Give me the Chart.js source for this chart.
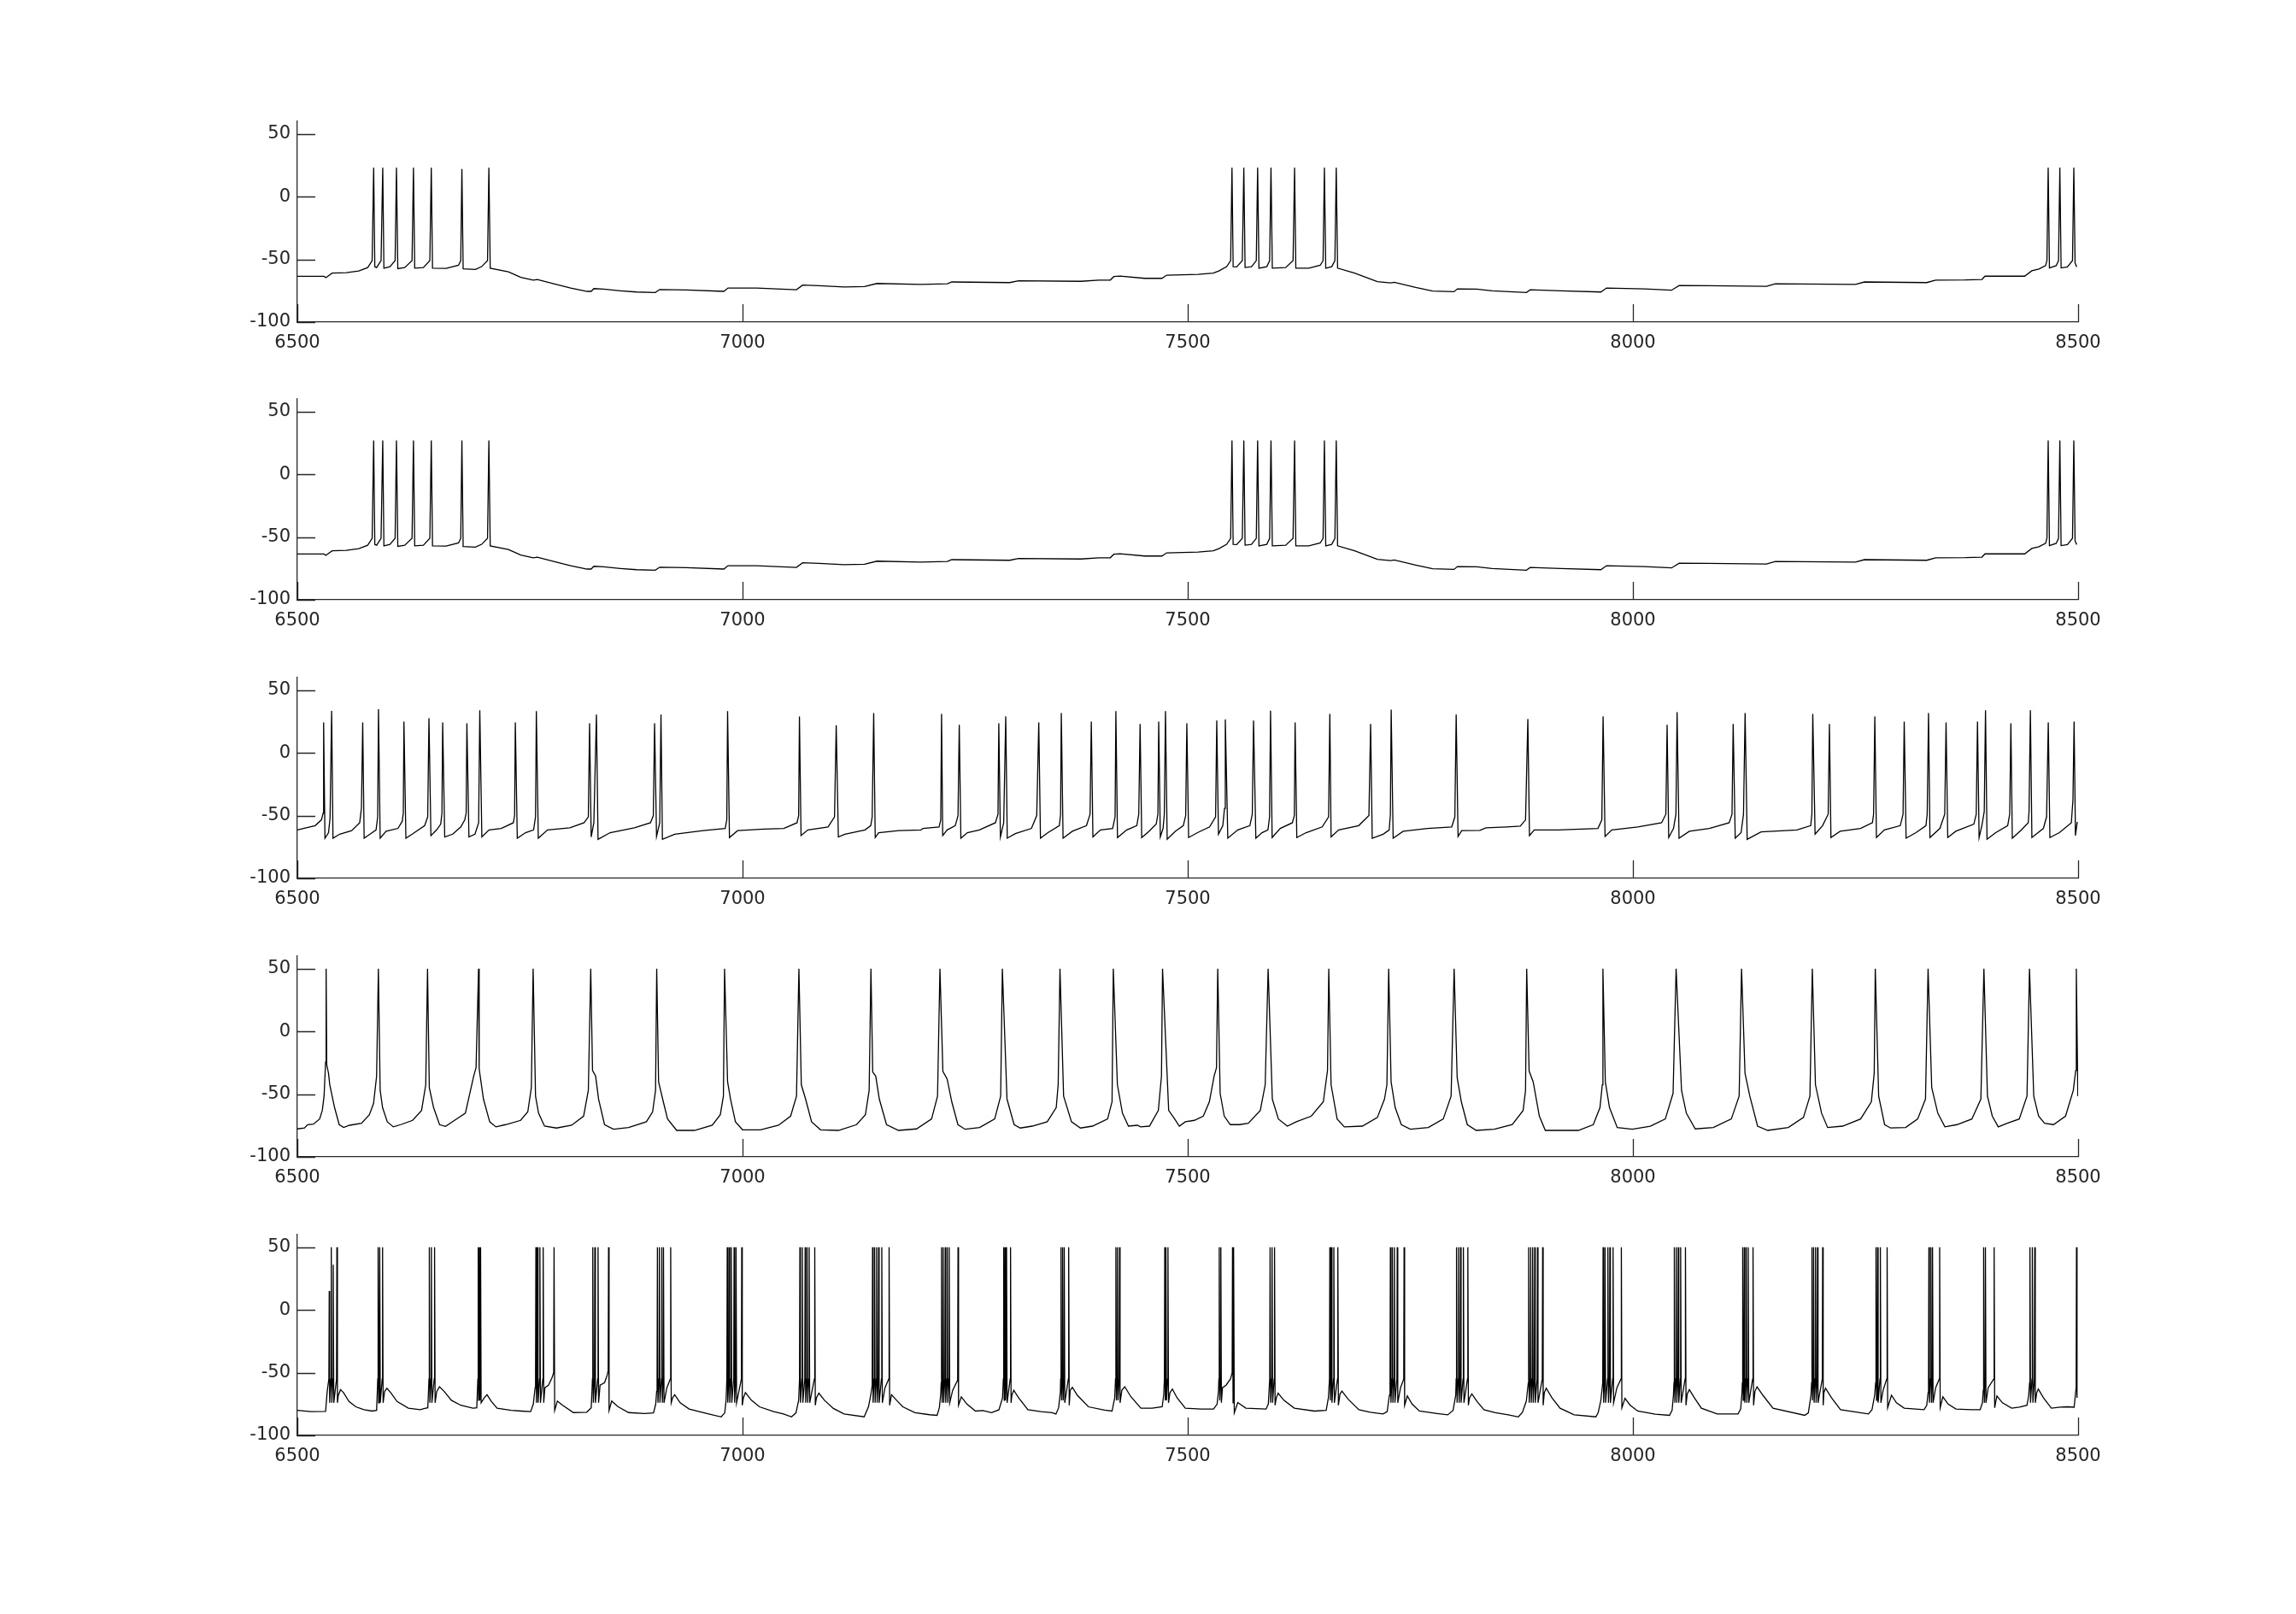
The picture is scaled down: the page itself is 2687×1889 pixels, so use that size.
<!DOCTYPE html>
<html>
<head>
<meta charset="utf-8">
<script src="https://cdn.jsdelivr.net/npm/chart.js@4/dist/chart.umd.min.js"></script>
<style>
html,body{margin:0;padding:0;background:#ffffff;}
body{width:2687px;height:1889px;position:relative;overflow:hidden;}
canvas{position:absolute;left:0;}
</style>
</head>
<body>
<canvas id="c1" width="2687" height="300" style="top:132px"></canvas>
<canvas id="c2" width="2687" height="300" style="top:457px"></canvas>
<canvas id="c3" width="2687" height="300" style="top:783px"></canvas>
<canvas id="c4" width="2687" height="300" style="top:1109px"></canvas>
<canvas id="c5" width="2687" height="300" style="top:1435px"></canvas>
<script>
// ---------- DATA (time in ms, membrane potential in mV) ----------
const xTicks = [6500, 7000, 7500, 8000, 8500];
const yTicks = [-100, -50, 0, 50];
const xRange = [6500, 8500];
const yRange = [-100, 60];

const trace1 = [
[6500,-63.5],[6530,-63.5],[6532,-64.6],[6539,-61],[6555,-60.6],[6569,-59.2],[6579,-56.5],[6584,-51],[6585.7,23],[6587,-56],[6589,-56.5],[6594,-51],[6595.9,23],[6597.2,-57],[6604,-55.8],[6609.8,-51],[6611.3,23],[6612.8,-57.4],[6620.6,-56.5],[6628.8,-51],[6630.4,23],[6631.8,-57],[6641.5,-56.5],[6648.8,-51],[6650.4,23],[6651.8,-57],[6667,-57.2],[6681,-54.7],[6683.5,-51],[6684.8,22],[6686.2,-57.6],[6700,-58],[6707,-55.8],[6713.6,-51],[6715.1,23],[6716.6,-57],[6737,-59.9],[6751,-64.4],[6765,-66.5],[6769.5,-66],[6788,-69.4],[6807,-72.8],[6825.4,-75.5],[6830,-75.5],[6833,-73.3],[6844,-73.7],[6862.7,-75],[6881,-76],[6902,-76.4],[6907,-74],[6937,-74.4],[6979,-75.5],[6983.7,-72.8],[7016,-72.8],[7060.5,-74.2],[7067.5,-70.5],[7086,-71],[7114,-72],[7137,-71.7],[7151,-69.2],[7200,-70],[7230,-69.5],[7235,-68],[7300,-68.5],[7310,-67],[7380,-67.5],[7400,-66.5],[7413,-66.5],[7417,-63.7],[7424,-63.3],[7451.5,-65.1],[7471,-65.1],[7476.4,-62.6],[7511.6,-61.9],[7528.7,-61],[7535,-59.2],[7543.7,-55.8],[7548.2,-51],[7549.7,23],[7551,-55.8],[7555,-56],[7561.3,-51],[7563,23],[7564.4,-56.5],[7571.6,-55.8],[7577,-51],[7578.5,23],[7580,-57],[7588.8,-55.8],[7592,-51],[7593.5,23],[7595,-57],[7610,-56.5],[7618.3,-51],[7620,23],[7621.4,-57],[7636,-57],[7648.8,-54.7],[7652,-51],[7653.5,23],[7655,-57],[7661.7,-55.8],[7665.3,-51],[7666.8,23],[7668.3,-57],[7687.4,-61],[7713,-67.8],[7728,-68.7],[7732,-68.3],[7756,-72.4],[7775,-75.3],[7799,-75.8],[7803,-73.5],[7824.6,-73.7],[7841.8,-75],[7880.4,-76.4],[7884.6,-74.2],[7919,-75],[7964,-76],[7970.4,-72.8],[8013,-73.5],[8043.3,-74.6],[8052,-70.8],[8085,-71],[8150,-71.5],[8160,-69.5],[8250,-70],[8260,-68],[8330,-68.5],[8340,-66.5],[8373,-66.4],[8392,-66],[8395.4,-63.4],[8440,-63.4],[8448,-59.1],[8456,-57.7],[8463.5,-55],[8465,-51],[8466.4,23],[8467.8,-56.8],[8475.4,-55],[8478,-51],[8479.5,23],[8480.9,-56.8],[8488,-56],[8493.7,-51],[8495.2,23],[8496.6,-53],[8498.4,-56]
];

const trace2 = [
[6500,-63.5],[6530,-63.5],[6532,-64.6],[6539,-61],[6555,-60.6],[6569,-59.2],[6579,-56.5],[6584,-51],[6585.7,27],[6587,-56],[6589,-56.5],[6594,-51],[6595.9,27],[6597.2,-57],[6604,-55.8],[6609.8,-51],[6611.3,27],[6612.8,-57.4],[6620.6,-56.5],[6628.8,-51],[6630.4,27],[6631.8,-57],[6641.5,-56.5],[6648.8,-51],[6650.4,27],[6651.8,-57],[6667,-57.2],[6681,-54.7],[6683.5,-51],[6684.8,27],[6686.2,-57.6],[6700,-58],[6707,-55.8],[6713.6,-51],[6715.1,27],[6716.6,-57],[6737,-59.9],[6751,-64.4],[6765,-66.5],[6769.5,-66],[6788,-69.4],[6807,-72.8],[6825.4,-75.5],[6830,-75.5],[6833,-73.3],[6844,-73.7],[6862.7,-75],[6881,-76],[6902,-76.4],[6907,-74],[6937,-74.4],[6979,-75.5],[6983.7,-72.8],[7016,-72.8],[7060.5,-74.2],[7067.5,-70.5],[7086,-71],[7114,-72],[7137,-71.7],[7151,-69.2],[7200,-70],[7230,-69.5],[7235,-68],[7300,-68.5],[7310,-67],[7380,-67.5],[7400,-66.5],[7413,-66.5],[7417,-63.7],[7424,-63.3],[7451.5,-65.1],[7471,-65.1],[7476.4,-62.6],[7511.6,-61.9],[7528.7,-61],[7535,-59.2],[7543.7,-55.8],[7548.2,-51],[7549.7,27],[7551,-55.8],[7555,-56],[7561.3,-51],[7563,27],[7564.4,-56.5],[7571.6,-55.8],[7577,-51],[7578.5,27],[7580,-57],[7588.8,-55.8],[7592,-51],[7593.5,27],[7595,-57],[7610,-56.5],[7618.3,-51],[7620,27],[7621.4,-57],[7636,-57],[7648.8,-54.7],[7652,-51],[7653.5,27],[7655,-57],[7661.7,-55.8],[7665.3,-51],[7666.8,27],[7668.3,-57],[7687.4,-61],[7713,-67.8],[7728,-68.7],[7732,-68.3],[7756,-72.4],[7775,-75.3],[7799,-75.8],[7803,-73.5],[7824.6,-73.7],[7841.8,-75],[7880.4,-76.4],[7884.6,-74.2],[7919,-75],[7964,-76],[7970.4,-72.8],[8013,-73.5],[8043.3,-74.6],[8052,-70.8],[8085,-71],[8150,-71.5],[8160,-69.5],[8250,-70],[8260,-68],[8330,-68.5],[8340,-66.5],[8373,-66.4],[8392,-66],[8395.4,-63.4],[8440,-63.4],[8448,-59.1],[8456,-57.7],[8463.5,-55],[8465,-51],[8466.4,27],[8467.8,-56.8],[8475.4,-55],[8478,-51],[8479.5,27],[8480.9,-56.8],[8488,-56],[8493.7,-51],[8495.2,27],[8496.6,-53],[8498.4,-56]
];

const trace3 = [
[6500,-61.4],[6506.8,-60.2],[6520,-58],[6527,-53.4],[6529,-48],[6529.5,24.3],[6531,-68],[6535,-63.6],[6536.7,-52.3],[6538.5,33.4],[6540,-68],[6547.6,-64.8],[6561,-62],[6570,-55.7],[6572,-44],[6573.4,24.3],[6575,-68],[6581.6,-64.8],[6588.4,-61.4],[6590.2,-51],[6591.1,34.8],[6593,-68],[6599.7,-62.5],[6613,-60.2],[6617.8,-54.5],[6619,-48],[6619.7,25],[6621.9,-68],[6629,-64.8],[6643,-58],[6646.4,-51],[6647.8,27.7],[6650,-65.9],[6656.4,-61.4],[6661,-56.8],[6662.4,-48],[6663.2,24.3],[6665.5,-67],[6674.5,-64.8],[6683.6,-59],[6688,-53.4],[6689.6,-48],[6690.4,23.6],[6692.7,-67],[6699.5,-64.8],[6703.6,-55.7],[6704.9,33.9],[6707.2,-67],[6715.3,-61.4],[6729,-60.2],[6742.6,-55.7],[6744,-50],[6744.8,24.3],[6747,-68],[6756.3,-63.6],[6765.3,-61.4],[6767.5,-51],[6768.4,33.2],[6770.6,-68],[6781,-61.4],[6806,-59.8],[6822,-55.7],[6826.8,-51],[6828.2,23.6],[6830,-67],[6833,-55.7],[6835.9,30.5],[6837.7,-68.9],[6851.3,-63.6],[6878.5,-59.8],[6896.6,-55.7],[6899.8,-50],[6901.2,23.6],[6903.4,-66.6],[6907,-55.7],[6908.4,30.5],[6910,-68.9],[6923.8,-64.8],[6955.6,-62],[6980.5,-60.2],[6982.3,-53.4],[6983.2,33.2],[6985.3,-67.5],[6994.4,-62],[7023.6,-60.7],[7046.3,-60.2],[7061.2,-55.7],[7063,-50],[7063.9,29.1],[7065.7,-65.9],[7073.4,-61.4],[7096,-59],[7103.3,-51],[7105.2,22],[7107.6,-67],[7114.9,-64.8],[7137.5,-61.4],[7144,-58],[7145.6,-51],[7147.3,31.8],[7149,-67.5],[7152.8,-63.6],[7175.4,-62],[7200.4,-61.4],[7202.6,-60.2],[7220.7,-59],[7222.6,-53.4],[7223.5,31.1],[7224.8,-65.9],[7229.8,-61.4],[7238.9,-58],[7242,-50],[7243.4,22.3],[7245.2,-68],[7252.5,-63.6],[7266,-61.4],[7284,-55.7],[7286.9,-48.9],[7287.8,23.6],[7289.6,-67],[7293.3,-55.7],[7295.6,29.1],[7297.3,-68],[7306.4,-64.3],[7324.5,-60.2],[7330.4,-50],[7332.7,24.3],[7334.6,-68],[7343,-63.6],[7355.8,-58],[7357.2,-48.9],[7358,31.8],[7360,-68],[7370.4,-62.5],[7386.3,-58],[7390.3,-48.9],[7391.7,25],[7393.5,-67],[7402,-61.4],[7415.7,-60.2],[7418.4,-51],[7419.3,33.2],[7421.1,-67.5],[7431.5,-61.4],[7442.8,-58],[7445,-48.9],[7446.5,23],[7448.3,-67.5],[7456.5,-62.5],[7464.6,-56.8],[7466.5,-48.9],[7467.4,25],[7469.2,-67],[7472.3,-60.2],[7473.7,-48.9],[7475,33.2],[7476.9,-68.9],[7486,-62.5],[7495,-58],[7497.7,-50],[7499,23.6],[7501,-67.5],[7511,-63.6],[7524.5,-59],[7531.3,-51],[7532.6,25.7],[7534.5,-64.8],[7539.4,-58],[7541.3,-44.3],[7542.2,26.6],[7545,-68],[7556.2,-61.4],[7569.8,-58],[7572.5,-48.9],[7573.9,25.7],[7576.5,-68],[7583.4,-63.6],[7590.1,-61.4],[7591.9,-51],[7593,33.6],[7594.8,-67.5],[7603.9,-60.2],[7617.5,-55.7],[7619.7,-50],[7620.6,24.3],[7622.5,-67.5],[7633,-63.6],[7651,-59],[7658.2,-51],[7659.6,31.1],[7661,-67],[7669.5,-61.4],[7692,-58],[7703.5,-50],[7705.4,23],[7707.2,-68],[7719.5,-64.8],[7726.3,-61.4],[7727.6,-48.9],[7728.5,34.5],[7730.7,-68],[7742,-62.5],[7769.3,-60.2],[7796.5,-59],[7800,-51],[7801.5,30.5],[7803.6,-66.6],[7807.7,-62],[7828,-61.8],[7835,-59.8],[7858,-59],[7873.5,-58.4],[7879.4,-53.4],[7882,27],[7883.8,-65.9],[7889.2,-61.4],[7916,-61.4],[7960.7,-60.2],[7965.1,-53.4],[7966.5,29.1],[7968.7,-66.6],[7976.3,-61.4],[8005.4,-59],[8032.2,-55.7],[8037,-48.9],[8038.4,22.3],[8040.2,-67.5],[8045.6,-60.2],[8048.3,-48.9],[8049.6,32.5],[8051.8,-68],[8063.4,-62.5],[8085.8,-60.2],[8108.1,-55.7],[8111.3,-48.9],[8112.6,23],[8114.9,-68],[8121.5,-63.6],[8124.2,-48.9],[8126,31.8],[8128.3,-68.9],[8143.9,-63],[8184.1,-61.4],[8199.7,-58],[8201,-48.9],[8202,31.1],[8204.6,-64.8],[8213,-58],[8219.3,-48.9],[8220.7,23],[8222.4,-67.5],[8232.7,-62.5],[8255.6,-60.2],[8269,-55.7],[8270.3,-48.9],[8271.7,29.1],[8273.5,-67.5],[8282.4,-61.4],[8300.3,-58],[8303.4,-48.9],[8304.7,25],[8306.8,-68],[8317.9,-63.6],[8329.1,-58],[8330.5,-48.9],[8332,31.8],[8333.6,-67.5],[8344.8,-60.2],[8350.2,-48.9],[8351.7,24.3],[8353.6,-67.5],[8362.6,-62.5],[8382.9,-56.8],[8385.6,-48.9],[8387,25],[8388.8,-67.5],[8391.9,-58],[8394.6,-46.6],[8396,33.9],[8397.7,-68.9],[8407.5,-63.6],[8420.9,-58],[8423.2,-48.9],[8424.5,23.6],[8426.1,-68],[8436.4,-61.4],[8444,-55.7],[8444.9,-46.6],[8446.4,33.9],[8448.1,-67.5],[8461,-60.2],[8464.6,-51],[8466.5,24.3],[8468.3,-67.5],[8479,-63.6],[8492.4,-55.7],[8494.2,-37.5],[8495.5,25],[8497,-65.9],[8499,-55]
];

const trace4 = [
[6500,-77.7],[6508,-77],[6511.5,-74.3],[6518,-73.9],[6525,-69.8],[6528,-63],[6530,-51.6],[6531.7,-24.3],[6532.3,50],[6533,-26.6],[6535,-33.4],[6536.4,-42.5],[6541.8,-60.7],[6547,-74.3],[6552,-76.6],[6558.6,-74.8],[6572,-73.2],[6580.9,-66.4],[6585.6,-57.3],[6589,-35.7],[6591,50],[6593,-47],[6595.7,-60.7],[6601,-72],[6607.8,-76.1],[6616,-74.3],[6629.4,-70.9],[6639.5,-63],[6644.2,-42.5],[6646.2,50],[6648.2,-44.8],[6653,-60.7],[6659.7,-74.3],[6666.4,-75.7],[6676.5,-70.9],[6688.7,-65.2],[6698,-35.7],[6700.7,-28.9],[6703.5,50],[6704.2,-30],[6709,-53.9],[6716,-72],[6723,-76.1],[6733.8,-74.3],[6750.7,-70.9],[6758.8,-64.1],[6762.8,-44.8],[6764.8,50],[6767.5,-51.6],[6770.9,-65.2],[6777.6,-75.5],[6791,-77],[6808,-74.8],[6821.5,-67.5],[6826.8,-47],[6829.5,50],[6831.5,-31.1],[6835,-35.7],[6838.3,-53.9],[6845,-74.3],[6855,-78],[6872,-76.6],[6892,-72],[6899,-64.1],[6902.3,-47],[6903.6,50],[6905.7,-40.2],[6911,-56.1],[6915.8,-69.8],[6926,-78.9],[6946,-78.9],[6966,-74.8],[6975,-66.4],[6978.5,-51.6],[6979.8,50],[6983.2,-40.2],[6986.5,-53.9],[6992,-72],[7000,-78.4],[7020,-78.4],[7040.4,-74.8],[7054,-67.5],[7060.6,-51.6],[7063.3,50],[7066,-42.5],[7070.8,-53.9],[7077.5,-72],[7087.6,-78.4],[7107.8,-78.9],[7128,-74.3],[7138,-66.4],[7142.2,-47],[7144.2,50],[7146.2,-32.3],[7149.6,-35.7],[7153.6,-53.9],[7161.7,-74.3],[7175.2,-78.9],[7195.4,-77.7],[7212.3,-69.8],[7219,-51.6],[7221.7,50],[7225,-31.8],[7229.8,-38],[7235,-56.1],[7241.9,-74.3],[7250,-78],[7266.3,-76.6],[7283.2,-69.8],[7289.9,-51.6],[7291.8,50],[7297,-53.9],[7305,-74.3],[7311.9,-77],[7325.3,-75.5],[7342.2,-72],[7352.3,-60.7],[7354.5,-42.5],[7356.5,50],[7360.6,-51.6],[7369.4,-72],[7379.5,-77],[7393,-75.5],[7410,-69.8],[7415,-56.1],[7416.4,50],[7421,-42.5],[7426.7,-65.2],[7433.4,-75.5],[7443.5,-74.8],[7447,-76.1],[7457,-75.5],[7467,-63],[7470.5,-35.7],[7471.7,50],[7478.6,-63],[7485,-69.5],[7490.6,-75.5],[7497.3,-72],[7507.4,-70.9],[7517.5,-67.5],[7524.3,-56.1],[7529.6,-35.7],[7532.3,-28.9],[7533.7,50],[7536.4,-49.3],[7541,-67.5],[7547.8,-74.3],[7558,-74.3],[7568,-73.2],[7581.5,-63],[7587,-42.5],[7590.3,50],[7595,-53.9],[7601.8,-69.8],[7611.9,-75.5],[7622,-72],[7638.8,-67.5],[7652.3,-56.1],[7657,-31.1],[7658.4,50],[7661,-42.5],[7667.8,-69.8],[7675.9,-76.1],[7696.1,-75.5],[7713,-68.6],[7721,-53.9],[7723.7,-42.5],[7725.7,50],[7728.4,-40.2],[7733,-60.7],[7739.9,-74.3],[7750,-78],[7770.2,-76.6],[7787,-69.8],[7795.8,-51.6],[7799.2,50],[7802.6,-36.8],[7807.3,-56.1],[7814,-74.3],[7824,-78.9],[7844.3,-78],[7864.5,-74.3],[7876.7,-63],[7879.4,-47],[7880.7,50],[7883.4,-31.6],[7888,-40.2],[7894.9,-67.5],[7901.6,-78.9],[7938.7,-78.9],[7955.5,-74.3],[7963,-60.7],[7965.6,-42.5],[7966.3,50],[7969,-40.2],[7973.7,-60.7],[7982.4,-76.6],[7999.3,-78],[8019.5,-75.5],[8036.4,-69.8],[8045.1,-49.3],[8048.5,50],[8054.6,-47],[8060,-65.2],[8070,-77.7],[8090.3,-76.6],[8110.5,-69.8],[8119.3,-51.6],[8122,50],[8125.9,-33.4],[8131.3,-51.6],[8140,-75.5],[8151.5,-78.9],[8174.5,-76.6],[8191.5,-68.6],[8198.8,-51.6],[8201.5,50],[8205,-42.5],[8211.9,-65.2],[8218.7,-76.6],[8235.5,-75.5],[8255.7,-69.8],[8267.8,-56.1],[8271,-33.4],[8272.2,50],[8276,-51.6],[8282.7,-74.3],[8289.5,-77],[8306.3,-76.6],[8319.8,-69.8],[8328.6,-53.9],[8331.5,50],[8335.6,-44.8],[8342.4,-65.2],[8350.4,-76.1],[8363.9,-74.3],[8380.7,-69.8],[8390.8,-53.9],[8394.2,50],[8398.2,-51.6],[8403.6,-67.5],[8410.3,-76.1],[8420.4,-73.2],[8433.9,-69.8],[8442.6,-51.6],[8445.4,50],[8450.2,-51.6],[8455.6,-67.5],[8462.3,-73.2],[8472.4,-74.3],[8485.9,-67.5],[8494.6,-47],[8497.3,-31.1],[8498,50],[8499.7,-51.6]
];

const trace5 = [
[6500,-80],[6515,-81],[6531.7,-80.8],[6533.5,-65],[6535.4,-55],[6535.8,15],[6536.3,-74],[6537.7,-55],[6538.1,50],[6538.7,-74],[6539.9,-55],[6540.3,36],[6540.9,-74],[6544,-55],[6544.4,50],[6545,-74],[6546,-68],[6548.5,-63.5],[6552,-66],[6558,-73],[6565.7,-77.2],[6574.8,-79.5],[6584,-80.6],[6589,-80],
[6589.8,-65],[6590.3,-55],[6590.7,50],[6591.3,-74],[6592.1,-55],[6592.5,50],[6593.1,-74],[6595.3,-55],[6595.7,50],[6596.3,-74],[6598,-65],[6600.6,-62.4],[6605,-66],[6612,-73],[6624.7,-78.3],[6638,-79.5],[6643,-78.5],[6646.5,-78],
[6647.3,-65],[6647.8,-55],[6648.2,50],[6648.8,-74],[6650.1,-55],[6650.5,50],[6651.1,-74],[6653.7,-55],[6654.1,50],[6654.7,-74],[6656.5,-65],[6659.6,-61.2],[6665,-65],[6673,-72],[6683.6,-76],[6697.2,-78.3],[6701.5,-78],
[6702.2,-65],[6702.7,-55],[6703.1,50],[6703.6,-72],[6704.1,-55],[6704.5,50],[6705,-72],[6705.4,-55],[6705.8,50],[6706.4,-74],[6710,-70],[6713,-67.6],[6718,-73],[6724.4,-78.3],[6740,-80],[6751.6,-80.6],[6762,-81],[6765,-75],
[6767,-62],[6767.5,-55],[6767.9,50],[6768.5,-74],[6769.3,-55],[6769.7,50],[6770.3,-74],[6772,-55],[6772.4,50],[6773,-74],[6775.7,-55],[6776.1,50],[6776.7,-74],[6778,-62],[6782,-60],[6786,-54],[6787.9,-50],[6788.3,50],[6789,-80],[6792,-72.6],[6798,-76],[6810,-81.8],[6825,-81.5],[6830,-78],
[6830.9,-65],[6831.4,-55],[6831.8,50],[6832.4,-74],[6833.7,-55],[6834.1,50],[6834.7,-74],[6837.3,-55],[6837.7,50],[6838.3,-74],[6840,-60],[6845,-58],[6848,-52],[6849.1,-48],[6849.5,50],[6850.1,-80],[6853,-72.6],[6860,-77],[6872,-81.8],[6890,-82.5],[6900,-82],[6902.5,-75],
[6903.5,-65],[6904,-55],[6904.4,50],[6905,-74],[6906.2,-55],[6906.6,50],[6907.2,-74],[6908.9,-55],[6909.3,50],[6909.9,-74],[6910.8,-55],[6911.2,50],[6911.8,-74],[6915,-62],[6918.9,-55],[6919.3,50],[6919.9,-74],[6921.5,-70],[6923.8,-67.6],[6930,-74],[6940,-79],[6960,-82.5],[6976,-85.2],[6980,-82],[6981.5,-72],
[6982.4,-55],[6982.8,50],[6983.4,-74],[6984.6,-55],[6985,50],[6985.6,-74],[6986.9,-55],[6987.3,50],[6987.9,-74],[6990.1,-55],[6990.5,50],[6991.1,-74],[6992.3,-55],[6992.7,50],[6993.3,-74],[6998.7,-55],[6999.1,50],[6999.7,-76],[7001,-70],[7003.2,-65.8],[7010,-72],[7019,-77.2],[7035,-81],[7046,-82.9],[7055,-85.2],[7060,-82],[7063,-72],
[7064,-55],[7064.4,50],[7065,-74],[7066.7,-55],[7067.1,50],[7067.7,-74],[7069.9,-55],[7070.3,50],[7070.9,-74],[7072.1,-55],[7072.5,50],[7073.1,-74],[7074.4,-55],[7074.8,50],[7075.4,-74],[7080.7,-55],[7081.1,50],[7081.7,-76],[7083,-70],[7085.7,-66.3],[7092,-72],[7102,-78.5],[7114,-82.9],[7136.6,-85.2],[7141.4,-77.2],[7144,-68],
[7145.6,-60],[7146,50],[7146.6,-74],[7147.9,-55],[7148.3,50],[7148.9,-74],[7150.2,-55],[7150.6,50],[7151.2,-74],[7152.4,-55],[7152.8,50],[7153.4,-74],[7156,-55],[7156.4,50],[7157,-74],[7160,-62],[7164.2,-55],[7164.6,50],[7165.2,-76],[7167.3,-67.6],[7173,-72],[7180,-77.2],[7193.6,-81.8],[7210,-83.5],[7218.5,-84],[7221,-78],[7222.5,-68],
[7223.1,-58],[7223.5,50],[7224.1,-74],[7224.9,-55],[7225.3,50],[7225.9,-74],[7227.2,-55],[7227.6,50],[7228.2,-74],[7229.5,-55],[7229.9,50],[7230.5,-74],[7231.7,-55],[7232.1,50],[7232.7,-74],[7236,-64],[7241.6,-56],[7242,50],[7242.6,-76],[7245.7,-69.2],[7252,-75],[7261.6,-80.6],[7270,-80.2],[7279.7,-81.8],[7288,-79.5],[7292,-70],
[7292.9,-55],[7293.3,50],[7293.9,-72],[7294.3,-55],[7294.7,50],[7295.3,-72],[7296.1,-55],[7296.5,50],[7297.1,-74],[7300.6,-55],[7301,50],[7301.6,-74],[7302.5,-68],[7304.6,-64],[7310,-70],[7320.5,-79.5],[7335,-81],[7347.7,-81.8],[7352,-82.9],[7355,-78],[7357,-65],
[7357.3,-55],[7357.7,50],[7358.3,-72],[7359.1,-55],[7359.5,50],[7360.1,-72],[7360.9,-55],[7361.3,50],[7361.9,-74],[7365.9,-55],[7366.3,50],[7366.9,-76],[7368,-64],[7370.4,-61.7],[7376,-68],[7388.5,-77.2],[7406.6,-79.9],[7415,-80.6],[7418,-70],
[7418.9,-55],[7419.3,50],[7419.9,-72],[7420.7,-55],[7421.1,50],[7421.7,-72],[7423,-55],[7423.4,50],[7424,-74],[7426,-64],[7429.3,-61.2],[7436,-69],[7447.4,-78.3],[7460,-78.3],[7471.3,-77.2],[7473,-68],
[7473.8,-55],[7474.2,50],[7474.8,-72],[7475.1,-55],[7475.5,50],[7476.1,-72],[7477.4,-55],[7477.8,50],[7478.4,-74],[7480,-66],[7482.8,-63],[7488,-70],[7497.3,-78.3],[7515,-79],[7529,-79],[7533,-75],[7534.5,-65],
[7535,-55],[7535.4,50],[7536,-72],[7536.8,-55],[7537.2,50],[7537.8,-74],[7539,-62],[7543,-60],[7548,-55],[7549.9,-50],[7550.3,50],[7550.9,-74],[7551.3,-55],[7551.7,50],[7552.3,-82],[7556.2,-73.8],[7565.3,-78.3],[7588,-79],
[7590.5,-75],[7592.1,-55],[7592.5,50],[7593.1,-74],[7594.3,-55],[7594.7,50],[7595.3,-74],[7597.1,-55],[7597.5,50],[7598.1,-76],[7599.5,-70],[7601.5,-66.3],[7608,-72],[7619.7,-78.3],[7642.3,-80.6],[7655.5,-80],[7658,-70],
[7659.2,-55],[7659.6,50],[7660.2,-72],[7661,-55],[7661.4,50],[7662,-74],[7663.7,-55],[7664.1,50],[7664.7,-74],[7668.2,-55],[7668.6,50],[7669.2,-76],[7671,-67],[7673.2,-64.7],[7680,-71],[7692.2,-79.5],[7705,-81.5],[7719.4,-82.9],[7724,-81],[7726.5,-68],
[7727.2,-55],[7727.6,50],[7728.2,-74],[7729.4,-55],[7729.8,50],[7730.4,-74],[7731.7,-55],[7732.1,50],[7732.7,-74],[7734.9,-55],[7735.3,50],[7735.9,-74],[7739,-62],[7742.6,-55],[7743,50],[7743.6,-76],[7746.6,-68.5],[7752,-75],[7760.2,-80.6],[7780,-82.5],[7792,-83.6],[7798,-80],[7801,-68],
[7801.5,-55],[7801.9,50],[7802.5,-74],[7803.8,-55],[7804.2,50],[7804.8,-74],[7806,-55],[7806.4,50],[7807,-74],[7809.2,-55],[7809.6,50],[7810.2,-74],[7814.2,-55],[7814.6,50],[7815.2,-76],[7816.5,-70],[7819.1,-66.9],[7825,-73],[7832.7,-79.5],[7845.4,-81.8],[7860,-83.5],[7871.3,-85.2],[7875.8,-81.8],[7880.3,-72.6],
[7882.5,-58],[7882.9,50],[7883.5,-74],[7884.8,-55],[7885.2,50],[7885.8,-74],[7887,-55],[7887.4,50],[7888,-74],[7889.3,-55],[7889.7,50],[7890.3,-74],[7892.4,-55],[7892.8,50],[7893.4,-74],[7898.2,-55],[7898.6,50],[7899.2,-76],[7900.5,-66],[7902.6,-62.4],[7909,-70],[7918.2,-78.3],[7933.9,-83.6],[7958.4,-85.2],[7961,-81.8],[7964,-72],
[7966.1,-58],[7966.5,50],[7967.1,-74],[7968.3,-55],[7968.7,50],[7969.3,-74],[7971.5,-55],[7971.9,50],[7972.5,-74],[7973.7,-55],[7974.1,50],[7974.7,-74],[7977.3,-55],[7977.7,50],[7978.3,-74],[7982,-62],[7986.6,-55],[7987,50],[7987.6,-78],[7991.1,-70.4],[7997,-76],[8005.4,-80.6],[8025,-83],[8041.1,-84],[8044,-80],[8045.5,-68],
[8046.1,-58],[8046.5,50],[8047.1,-74],[8048.3,-55],[8048.7,50],[8049.3,-74],[8050.5,-55],[8050.9,50],[8051.5,-74],[8053.2,-55],[8053.6,50],[8054.2,-74],[8058.6,-55],[8059,50],[8059.6,-76],[8061,-67],[8063.4,-63.5],[8069,-70],[8076.9,-78.3],[8094.7,-82.9],[8118,-82.9],[8121,-79],[8122.5,-66],
[8122.9,-58],[8123.3,50],[8123.9,-72],[8124.7,-55],[8125.1,50],[8125.7,-74],[8126.9,-55],[8127.3,50],[8127.9,-74],[8129.1,-55],[8129.5,50],[8130.1,-74],[8134.5,-55],[8134.9,50],[8135.5,-76],[8137,-65],[8139.4,-61.2],[8146,-68],[8157.3,-78.3],[8193,-84],[8197,-82],[8200,-68],
[8200.7,-58],[8201.1,50],[8201.7,-72],[8202.5,-55],[8202.9,50],[8203.5,-74],[8204.7,-55],[8205.1,50],[8205.7,-74],[8206.9,-55],[8207.3,50],[8207.9,-74],[8212.7,-55],[8213.1,50],[8213.7,-76],[8214.5,-66],[8216.3,-62.4],[8223,-70],[8233.2,-79.5],[8264.5,-82.9],[8268.5,-79.5],[8271.5,-68],
[8272.6,-58],[8273,50],[8273.6,-72],[8274.4,-55],[8274.8,50],[8275.4,-74],[8277.5,-55],[8277.9,50],[8278.5,-74],[8281,-64],[8285.1,-55],[8285.5,50],[8286.1,-78],[8290.4,-68],[8296,-74],[8304.7,-78.3],[8327,-79.5],[8330,-76],[8331.5,-66],
[8332,-58],[8332.4,50],[8333,-74],[8334.3,-55],[8334.7,50],[8335.3,-74],[8336.1,-55],[8336.5,50],[8337.1,-74],[8340,-62],[8344.1,-55],[8344.5,50],[8345.1,-78],[8348.1,-69.2],[8354,-75],[8362.8,-79],[8380,-79.5],[8390,-79.5],[8392.5,-74],[8393.5,-64],
[8393.7,-58],[8394.1,50],[8394.7,-74],[8395.5,-55],[8395.9,50],[8396.5,-74],[8399,-62],[8405.3,-55],[8405.7,50],[8406.3,-78],[8408.8,-68.5],[8415,-74],[8425.4,-78.3],[8434,-77.5],[8442.6,-76],[8444.5,-68],
[8445.5,-58],[8445.9,50],[8446.5,-74],[8448.2,-55],[8448.6,50],[8449.2,-74],[8450.9,-55],[8451.3,50],[8451.9,-74],[8453.5,-66],[8455.3,-63],[8461,-70],[8470,-78.3],[8480,-77.5],[8488,-77.2],[8495.5,-77.5],[8497.8,-62],[8498.2,50],[8498.8,-70]
];

const traces = [trace1, trace2, trace3, trace4, trace5];

// ---------- RENDERING ----------
const AXIS_COLOR = '#262626';
const FONT = {family: "'DejaVu Sans', sans-serif", size: 21};
const TICK_LEN = 21;

const inwardTicks = {
  id: 'inwardTicks',
  afterDraw(chart) {
    const ctx = chart.ctx, ca = chart.chartArea;
    const xs = chart.scales.x, ys = chart.scales.y;
    ctx.save();
    ctx.strokeStyle = AXIS_COLOR;
    ctx.lineWidth = 1.3;
    ctx.beginPath();
    xTicks.forEach(v => {
      const px = Math.round(xs.getPixelForValue(v)) + 0.5;
      ctx.moveTo(px, ca.bottom);
      ctx.lineTo(px, ca.bottom - TICK_LEN);
    });
    yTicks.forEach(v => {
      const py = Math.round(ys.getPixelForValue(v)) + 0.5;
      ctx.moveTo(ca.left, py);
      ctx.lineTo(ca.left + TICK_LEN, py);
    });
    ctx.stroke();
    ctx.restore();
  }
};

traces.forEach((tr, i) => {
  const ctx = document.getElementById('c' + (i + 1)).getContext('2d');
  new Chart(ctx, {
    type: 'line',
    data: {
      datasets: [{
        data: tr.map(p => ({x: p[0], y: p[1]})),
        borderColor: '#000000',
        borderWidth: 1.3,
        pointRadius: 0,
        tension: 0,
        fill: false
      }]
    },
    options: {
      responsive: false,
      animation: false,
      devicePixelRatio: 1,
      parsing: false,
      normalized: true,
      layout: {padding: {left: 278, right: 255, top: 10, bottom: 0}},
      plugins: {legend: {display: false}, tooltip: {enabled: false}},
      scales: {
        x: {
          type: 'linear',
          min: xRange[0], max: xRange[1],
          afterBuildTicks: s => { s.ticks = xTicks.map(v => ({value: v})); },
          afterFit: s => { s.height = 55; s.paddingLeft = 0; s.paddingRight = 0; },
          ticks: {font: FONT, color: AXIS_COLOR, padding: 12, maxRotation: 0, autoSkip: false,
                  callback: v => String(v)},
          grid: {display: false, drawTicks: false},
          border: {display: true, color: AXIS_COLOR, width: 1.3}
        },
        y: {
          type: 'linear',
          min: yRange[0], max: yRange[1],
          afterBuildTicks: s => { s.ticks = yTicks.map(v => ({value: v})); },
          afterFit: s => { s.width = 70; s.paddingTop = 0; s.paddingBottom = 0; },
          ticks: {font: FONT, color: AXIS_COLOR, padding: 8, callback: v => String(v)},
          grid: {display: false, drawTicks: false},
          border: {display: true, color: AXIS_COLOR, width: 1.3}
        }
      }
    },
    plugins: [inwardTicks]
  });
});
</script>
</body>
</html>
